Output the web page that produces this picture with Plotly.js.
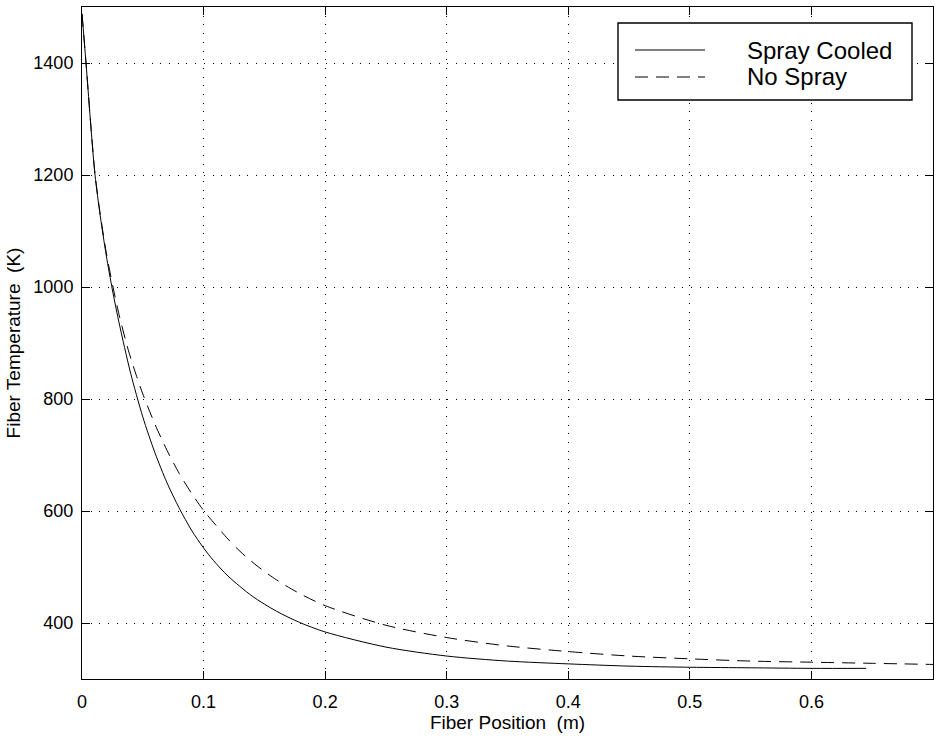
<!DOCTYPE html>
<html>
<head>
<meta charset="utf-8">
<script src="https://cdn.plot.ly/plotly-3.0.1.min.js"></script>
<style>html,body{margin:0;padding:0;background:#fff;}</style>
</head>
<body>
<div id="chart" style="width:939px;height:740px;"></div>
<script>
// ---- data ----
var seriesNames = ["Spray Cooled", "No Spray"];

var sprayX = [0, 0.0033, 0.0075, 0.0107, 0.015, 0.02, 0.025, 0.03, 0.035, 0.04, 0.05, 0.06, 0.07, 0.08, 0.09, 0.1, 0.108, 0.12, 0.14, 0.16, 0.179, 0.2, 0.25, 0.3, 0.35, 0.4, 0.45, 0.5, 0.55, 0.6, 0.645];
var sprayT = [1488, 1400, 1281, 1200, 1127, 1056, 995, 941, 892, 846, 768, 704, 650, 605, 566, 534, 512, 484, 448, 421, 401, 384, 357, 341, 332, 327, 323, 321, 320, 319, 319];

var noSprayX = [0, 0.0033, 0.0075, 0.0107, 0.015, 0.02, 0.0255, 0.03, 0.038, 0.045, 0.05, 0.06, 0.07, 0.08, 0.09, 0.1, 0.11, 0.12, 0.13, 0.144, 0.16, 0.177, 0.2, 0.25, 0.3, 0.35, 0.4, 0.45, 0.5, 0.55, 0.6, 0.65, 0.7];
var noSprayT = [1488, 1400, 1282, 1202, 1130, 1061, 1000, 955, 888, 840, 809, 755, 708, 667, 632, 601, 575, 550, 528, 502, 477, 455, 431, 396, 374, 359, 349, 341, 336, 332, 330, 328, 326];

var xTickVals = [0, 0.1, 0.2, 0.3, 0.4, 0.5, 0.6];
var xTickText = ["0", "0.1", "0.2", "0.3", "0.4", "0.5", "0.6"];
var yTickVals = [400, 600, 800, 1000, 1200, 1400];
var yTickText = ["400", "600", "800", "1000", "1200", "1400"];

var xTitle = "Fiber Position\u00a0\u00a0(m)";
var yTitle = "Fiber Temperature\u00a0\u00a0(K)";

// ---- plot ----
var font = "Liberation Sans, Arial, Helvetica, sans-serif";
var traces = [
  {x: sprayX, y: sprayT, name: seriesNames[0], mode: "lines", type: "scatter",
   line: {color: "#000", width: 1, shape: "spline", smoothing: 0.8}, showlegend: false},
  {x: noSprayX, y: noSprayT, name: seriesNames[1], mode: "lines", type: "scatter",
   line: {color: "#000", width: 1, dash: "13px,8px", shape: "spline", smoothing: 0.8}, showlegend: false}
];

function px2x(p){ return (p - 82) / 851; }
function px2y(p){ return (679 - p) / 672; }

var axisCommon = {
  showline: true, linecolor: "#000", linewidth: 1, mirror: "ticks",
  ticks: "inside", ticklen: 8, tickwidth: 1, tickcolor: "#000",
  showgrid: true, gridcolor: "#000", gridwidth: 1, griddash: "1px,7.7px",
  zeroline: false, tickfont: {family: font, size: 18, color: "#000"},
  tickmode: "array"
};

var layout = {
  width: 939, height: 740,
  margin: {l: 82, r: 6, t: 7, b: 61},
  paper_bgcolor: "#fff", plot_bgcolor: "#fff",
  font: {family: font, color: "#000"},
  showlegend: false,
  xaxis: Object.assign({}, axisCommon, {
    range: [0, 0.7], tickvals: xTickVals, ticktext: xTickText,
    ticklabelstandoff: 6,
    title: {text: xTitle, font: {family: font, size: 19, color: "#000"}, standoff: 4}
  }),
  yaxis: Object.assign({}, axisCommon, {
    range: [300, 1500], tickvals: yTickVals, ticktext: yTickText,
    ticklabelstandoff: 4,
    title: {text: yTitle, font: {family: font, size: 19, color: "#000"}, standoff: 7}
  }),
  shapes: [
    {type: "rect", xref: "paper", yref: "paper", x0: px2x(618), x1: px2x(912), y0: px2y(100), y1: px2y(23),
     line: {color: "#000", width: 1.4}, fillcolor: "#fff", layer: "above"},
    {type: "line", xref: "paper", yref: "paper", x0: px2x(635), x1: px2x(705), y0: px2y(50), y1: px2y(50),
     line: {color: "#000", width: 1}, layer: "above"},
    {type: "line", xref: "paper", yref: "paper", x0: px2x(635), x1: px2x(705), y0: px2y(77), y1: px2y(77),
     line: {color: "#000", width: 1, dash: "13px,8px"}, layer: "above"}
  ],
  annotations: [
    {xref: "paper", yref: "paper", x: px2x(745), y: px2y(50), xanchor: "left", yanchor: "middle",
     text: seriesNames[0], showarrow: false, font: {family: font, size: 24, color: "#000"}},
    {xref: "paper", yref: "paper", x: px2x(745), y: px2y(77), xanchor: "left", yanchor: "middle",
     text: seriesNames[1], showarrow: false, font: {family: font, size: 24, color: "#000"}}
  ]
};

Plotly.newPlot("chart", traces, layout, {displayModeBar: false, staticPlot: true});
</script>
</body>
</html>
